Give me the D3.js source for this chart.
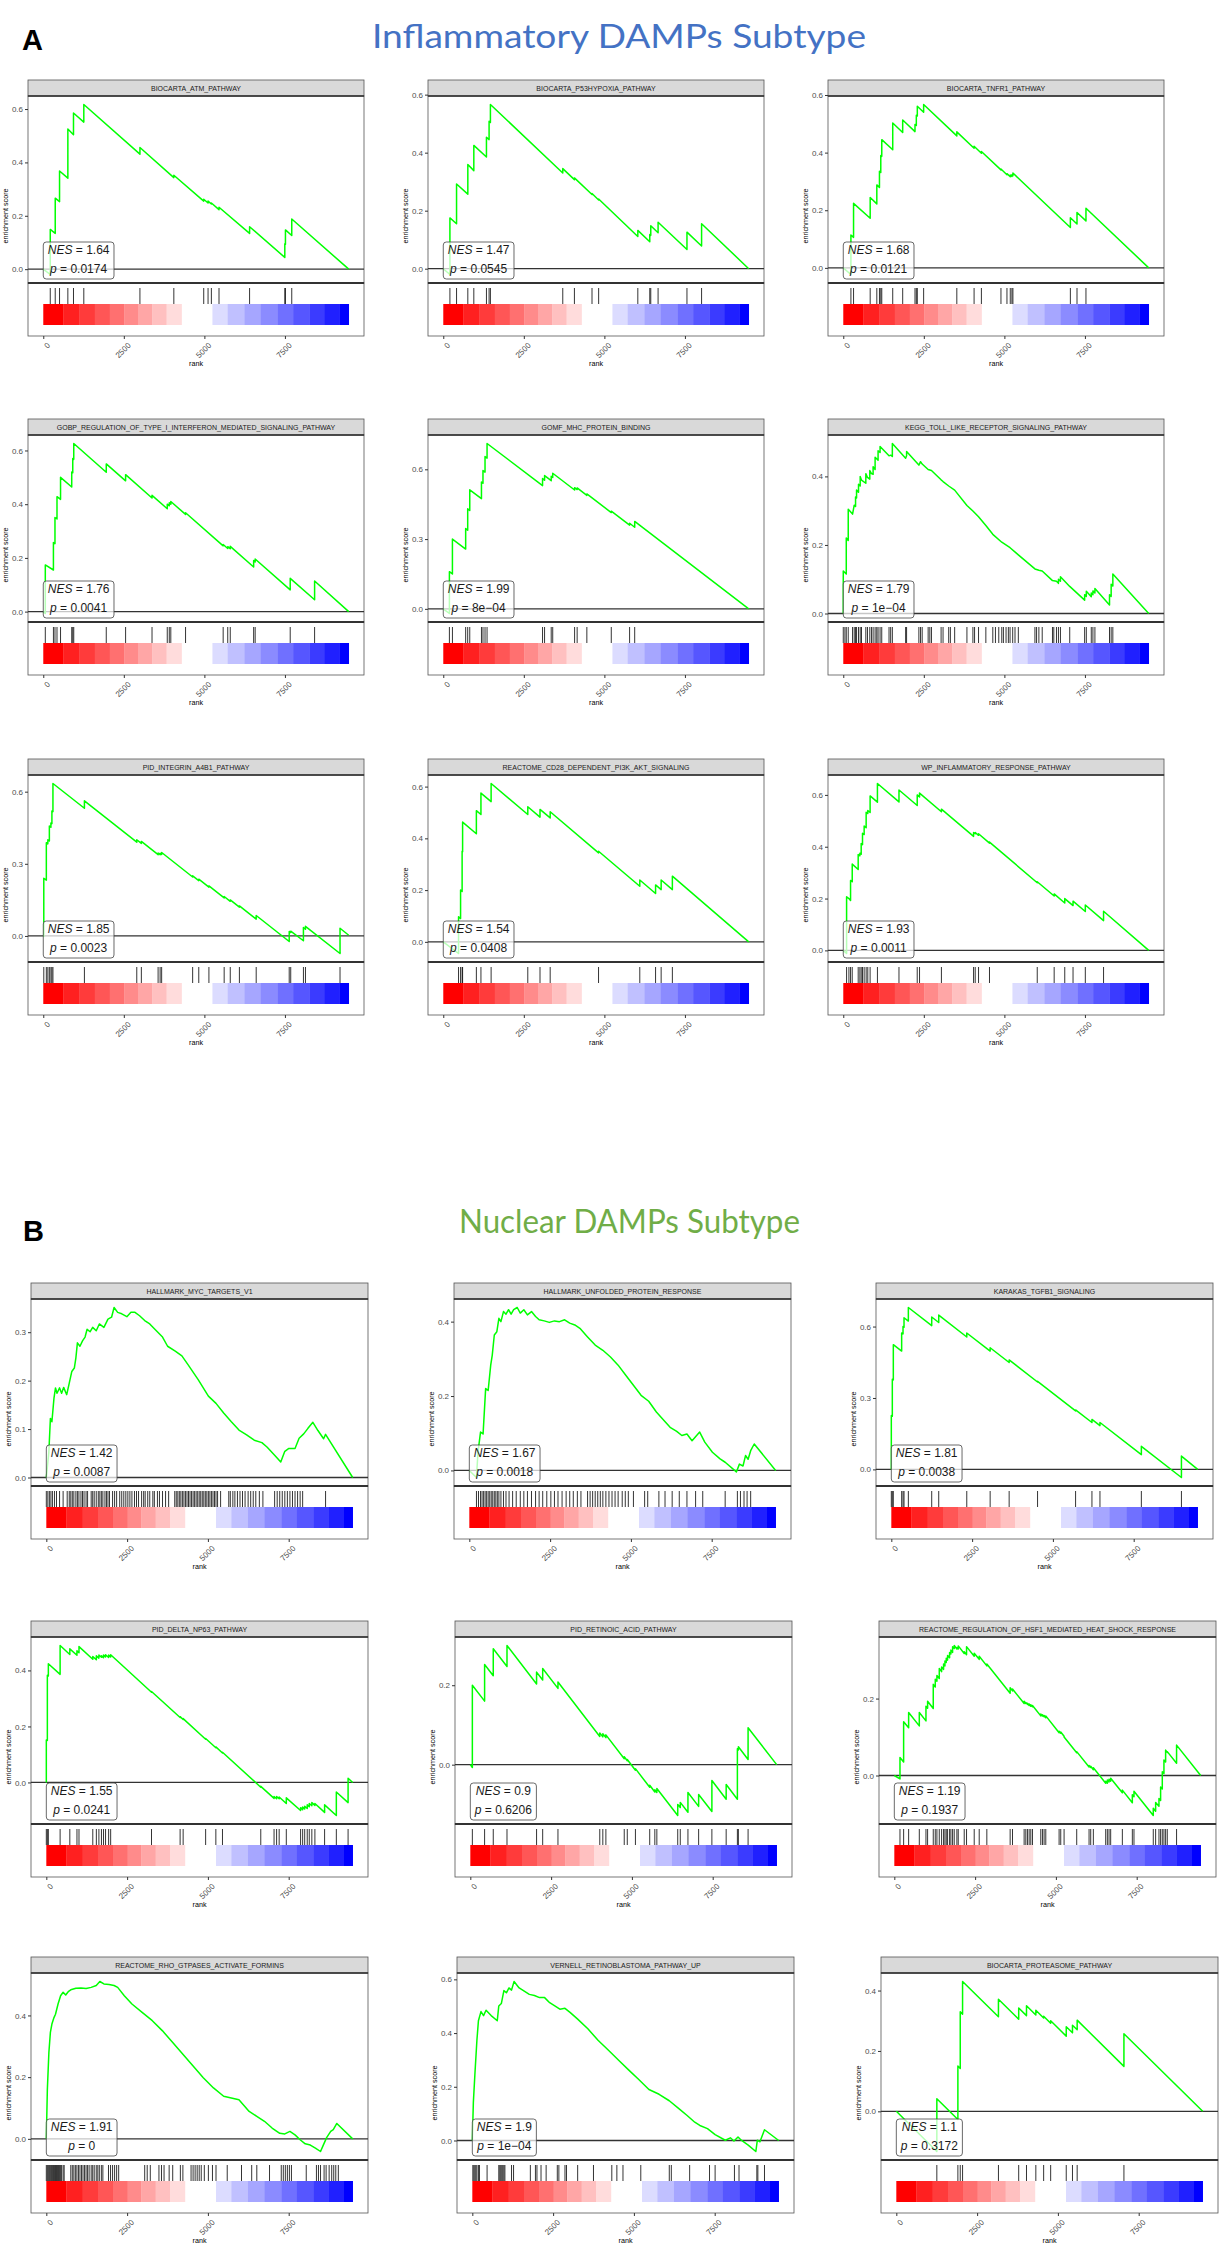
<!DOCTYPE html>
<html>
<head>
<meta charset="utf-8">
<script src="https://cdnjs.cloudflare.com/ajax/libs/d3/7.8.5/d3.min.js"></script>
<style>
  body { margin: 0; background: #fff; }
  text { font-family: "Liberation Sans", Arial, sans-serif; }
</style>
</head>
<body>
<div id="chart"></div>
<script>
// Ranked list length and axis ticks
const N_RANK = 9480;
const rankTicks = [0, 2500, 5000, 7500];

// Heat bar under the hits (rank edges and colours)
const barEdges = [0, 619, 1124, 1599, 2063, 2516, 2940, 3383, 3827, 4301, 5250, 5724, 6240, 6744, 7270, 7754, 8259, 8734, 9188, 9480];
const barColors = ['#ff0000', '#ff2020', '#ff3b3b', '#ff5656', '#ff7070', '#ff8b8b', '#ffa6a6', '#ffc0c0', '#ffdcdc', '#ffffff',
  '#dcdcff', '#c0c0ff', '#a6a6ff', '#8b8bff', '#7070ff', '#5656ff', '#3b3bff', '#2020ff', '#0000ff'];

// ---- A: Inflammatory DAMPs subtype ----
const atmHits = [217, 371, 505, 763, 938, 1258, 3000, 4052, 4980, 5114, 5217, 5454, 6403, 7496, 7516, 7712];
const atmCurve = [[0,0],[217,-0.02],[217,0.149],[371,0.134],[371,0.266],[505,0.253],[505,0.368],[763,0.341],[763,0.525],[938,0.504],[938,0.585],[1258,0.551],[1258,0.617],[3000,0.431],[3000,0.456],[4052,0.343],[4052,0.352],[4980,0.255],[4980,0.262],[5114,0.248],[5114,0.255],[5217,0.244],[5217,0.248],[5454,0.223],[5454,0.232],[6403,0.134],[6403,0.159],[7496,0.044],[7496,0.095],[7516,0.093],[7516,0.147],[7712,0.126],[7712,0.188],[9480,0]];

const p53Hits = [206, 412, 762, 948, 1340, 1422, 1463, 3709, 4070, 4616, 4822, 6038, 6409, 6440, 6667, 7563, 8017];
const p53Curve = [[0,0],[206,-0.02],[206,0.175],[412,0.155],[412,0.292],[762,0.257],[762,0.359],[948,0.338],[948,0.425],[1340,0.385],[1340,0.453],[1422,0.445],[1422,0.508],[1463,0.504],[1463,0.566],[3709,0.33],[3709,0.345],[4070,0.307],[4070,0.313],[4616,0.256],[4616,0.259],[4822,0.237],[4822,0.24],[6038,0.111],[6038,0.132],[6409,0.093],[6409,0.118],[6440,0.115],[6440,0.148],[6667,0.124],[6667,0.16],[7563,0.066],[7563,0.126],[8017,0.078],[8017,0.155],[9480,0]];

const tnfr1Hits = [237, 319, 835, 1041, 1123, 1164, 1195, 1535, 1844, 2226, 2267, 2298, 2494, 3524, 4060, 4287, 4894, 5080, 5183, 5234, 5265, 7048, 7254, 7532];
const tnfr1Curve = [[0,0],[237,-0.023],[237,0.114],[319,0.106],[319,0.224],[835,0.172],[835,0.244],[1041,0.222],[1041,0.288],[1123,0.279],[1123,0.335],[1164,0.331],[1164,0.39],[1195,0.387],[1195,0.445],[1535,0.41],[1535,0.503],[1844,0.47],[1844,0.513],[2226,0.473],[2226,0.498],[2267,0.494],[2267,0.53],[2298,0.527],[2298,0.561],[2494,0.54],[2494,0.567],[3524,0.458],[3524,0.472],[4060,0.415],[4060,0.422],[4287,0.398],[4287,0.404],[4894,0.34],[4894,0.343],[5080,0.323],[5080,0.327],[5183,0.316],[5183,0.322],[5234,0.317],[5234,0.323],[5265,0.32],[5265,0.329],[7048,0.14],[7048,0.174],[7254,0.152],[7254,0.192],[7532,0.163],[7532,0.207],[9480,0]];

const gobpHits = [63, 315, 363, 426, 536, 883, 915, 946, 1955, 2555, 3375, 3848, 3911, 3958, 4416, 5583, 5725, 5803, 6529, 6576, 7664, 8421];
const gobpCurve = [[0,0],[63,-0.007],[63,0.174],[315,0.155],[315,0.257],[363,0.253],[363,0.35],[426,0.345],[426,0.428],[536,0.418],[536,0.5],[883,0.464],[883,0.52],[915,0.517],[915,0.57],[946,0.567],[946,0.626],[1955,0.519],[1955,0.55],[2555,0.487],[2555,0.51],[3375,0.423],[3375,0.433],[3848,0.383],[3848,0.4],[3911,0.394],[3911,0.405],[3958,0.4],[3958,0.41],[4416,0.362],[4416,0.368],[5583,0.245],[5583,0.25],[5725,0.235],[5725,0.242],[5803,0.234],[5803,0.243],[6529,0.166],[6529,0.19],[6576,0.185],[6576,0.196],[7664,0.081],[7664,0.124],[8421,0.044],[8421,0.114],[9480,0]];

const mhcHits = [190, 284, 695, 758, 822, 1185, 1232, 1296, 1359, 3081, 3144, 3350, 3397, 4076, 4155, 4456, 5214, 5783, 5941];
const mhcCurve = [[0,0],[190,-0.02],[190,0.16],[284,0.15],[284,0.3],[695,0.257],[695,0.345],[758,0.338],[758,0.43],[822,0.423],[822,0.512],[1185,0.474],[1185,0.545],[1232,0.54],[1232,0.595],[1296,0.588],[1296,0.655],[1359,0.648],[1359,0.711],[3081,0.53],[3081,0.56],[3144,0.553],[3144,0.573],[3350,0.551],[3350,0.57],[3397,0.565],[3397,0.583],[4076,0.511],[4076,0.521],[4155,0.513],[4155,0.52],[4456,0.488],[4456,0.494],[5214,0.414],[5214,0.42],[5783,0.36],[5783,0.368],[5941,0.351],[5941,0.376],[9480,0]];

const keggHits = [0, 51, 93, 154, 288, 340, 381, 412, 473, 525, 566, 700, 751, 823, 875, 926, 988, 1039, 1080, 1142, 1194, 1420, 1471, 1523, 1935, 1965, 2346, 2398, 2449, 2634, 2686, 2737, 3036, 3097, 3272, 3324, 3457, 3838, 4023, 4075, 4198, 4425, 4641, 4723, 4826, 4919, 4970, 5052, 5124, 5176, 5258, 5330, 5433, 5948, 5999, 6071, 6174, 6493, 6534, 6617, 6678, 6740, 7028, 7491, 7543, 7697, 7748, 7810, 8263, 8314, 8366];
const keggCurve = [[0,0],[0,0.124],[93,0.115],[93,0.22],[154,0.213],[154,0.304],[288,0.29],[340,0.316],[381,0.312],[381,0.34],[412,0.337],[412,0.36],[473,0.354],[473,0.377],[525,0.372],[525,0.4],[566,0.389],[700,0.38],[700,0.408],[751,0.397],[823,0.392],[823,0.417],[875,0.408],[926,0.406],[926,0.428],[988,0.42],[988,0.456],[1080,0.447],[1080,0.475],[1142,0.47],[1142,0.487],[1420,0.46],[1471,0.462],[1523,0.458],[1523,0.496],[1935,0.453],[1965,0.46],[1965,0.473],[2346,0.433],[2398,0.443],[2449,0.436],[2634,0.42],[2737,0.417],[3036,0.39],[3097,0.385],[3272,0.372],[3457,0.36],[3838,0.315],[4023,0.299],[4198,0.282],[4425,0.257],[4641,0.231],[4919,0.208],[5176,0.192],[5433,0.171],[5948,0.13],[6071,0.126],[6174,0.124],[6493,0.096],[6617,0.094],[6678,0.088],[6678,0.1],[6740,0.094],[6740,0.107],[7028,0.079],[7491,0.039],[7491,0.055],[7543,0.05],[7543,0.065],[7697,0.049],[7697,0.06],[7748,0.055],[7748,0.066],[7810,0.06],[7810,0.073],[8263,0.025],[8263,0.055],[8314,0.05],[8314,0.085],[8366,0.08],[8366,0.115],[9480,0]];

const integrinHits = [16, 95, 142, 189, 237, 268, 300, 1277, 2902, 3044, 3564, 3627, 3674, 4636, 4826, 5141, 5614, 5803, 6087, 6608, 7633, 7680, 8074, 8137, 9210];
const integrinCurve = [[0,0],[16,-0.002],[16,0.24],[95,0.232],[95,0.388],[142,0.383],[142,0.4],[189,0.395],[189,0.457],[237,0.452],[237,0.47],[268,0.467],[268,0.52],[300,0.517],[300,0.634],[1277,0.531],[1277,0.562],[2902,0.39],[2902,0.4],[3044,0.385],[3044,0.393],[3564,0.338],[3564,0.345],[3627,0.338],[3627,0.344],[3674,0.339],[3674,0.347],[4636,0.245],[4636,0.25],[4826,0.23],[4826,0.236],[5141,0.203],[5141,0.208],[5614,0.158],[5614,0.164],[5803,0.144],[5803,0.15],[6087,0.12],[6087,0.125],[6608,0.07],[6608,0.085],[7633,-0.023],[7633,0.019],[7680,0.014],[7680,0.02],[8074,-0.02],[8074,0.035],[8137,0.028],[8137,0.04],[9210,-0.073],[9210,0.032],[9480,0.003]];

const cd28Hits = [474, 537, 585, 600, 1027, 1169, 1485, 2623, 3002, 3318, 4819, 6099, 6589, 6762, 7110];
const cd28Curve = [[0,0],[474,-0.045],[474,0.097],[537,0.09],[537,0.2],[585,0.195],[585,0.35],[600,0.348],[600,0.463],[1027,0.418],[1027,0.507],[1169,0.492],[1169,0.575],[1485,0.542],[1485,0.612],[2623,0.492],[2623,0.522],[3002,0.482],[3002,0.512],[3318,0.479],[3318,0.503],[4819,0.344],[4819,0.35],[6099,0.215],[6099,0.239],[6589,0.187],[6589,0.22],[6762,0.202],[6762,0.239],[7110,0.202],[7110,0.254],[9480,0]];

const wpHits = [103, 175, 226, 278, 463, 515, 556, 597, 648, 710, 761, 833, 1060, 1729, 2295, 2367, 3046, 4044, 4095, 4198, 4538, 6020, 6545, 6874, 7131, 7512, 8078];
const wpCurve = [[0,0],[103,-0.012],[103,0.207],[175,0.2],[226,0.193],[226,0.27],[278,0.265],[278,0.333],[463,0.312],[463,0.37],[515,0.365],[515,0.375],[556,0.371],[556,0.412],[597,0.408],[597,0.452],[648,0.447],[648,0.48],[710,0.473],[710,0.533],[761,0.528],[761,0.54],[833,0.532],[833,0.596],[1060,0.572],[1060,0.644],[1729,0.573],[1729,0.619],[2295,0.559],[2295,0.6],[2367,0.592],[2367,0.607],[3046,0.535],[3046,0.545],[4044,0.44],[4044,0.455],[4095,0.45],[4095,0.455],[4198,0.444],[4198,0.45],[4538,0.414],[4538,0.418],[6020,0.261],[6020,0.265],[6545,0.21],[6545,0.218],[6874,0.183],[6874,0.2],[7131,0.173],[7131,0.19],[7512,0.15],[7512,0.175],[8078,0.115],[8078,0.151],[9480,0]];

// ---- B: Nuclear DAMPs subtype ----
const mycHits = [0, 47, 95, 142, 189, 252, 315, 410, 520, 646, 710, 757, 804, 852, 915, 962, 1009, 1072, 1120, 1167, 1230, 1277, 1388, 1435, 1482, 1545, 1608, 1656, 1703, 1750, 1814, 1861, 1908, 1955, 2050, 2113, 2176, 2271, 2334, 2397, 2460, 2523, 2586, 2649, 2728, 2791, 2854, 2949, 3012, 3059, 3138, 3201, 3296, 3343, 3438, 3501, 3596, 3690, 3785, 3974, 4021, 4069, 4116, 4163, 4211, 4258, 4305, 4353, 4400, 4447, 4494, 4542, 4589, 4636, 4684, 4731, 4778, 4826, 4873, 4920, 4967, 5015, 5062, 5109, 5157, 5204, 5251, 5299, 5393, 5646, 5693, 5772, 5835, 5914, 5993, 6071, 6150, 6245, 6324, 6403, 6482, 6592, 6702, 7065, 7144, 7223, 7301, 7380, 7459, 7538, 7617, 7696, 7775, 7854, 7932, 8641];
const mycCurve = [[0,0],[79,0.053],[126,0.122],[173,0.115],[237,0.164],[284,0.185],[331,0.174],[410,0.185],[473,0.174],[536,0.186],[631,0.171],[710,0.195],[789,0.219],[867,0.226],[915,0.247],[962,0.278],[1041,0.271],[1120,0.282],[1199,0.29],[1262,0.306],[1356,0.301],[1435,0.31],[1545,0.303],[1640,0.317],[1782,0.31],[1908,0.327],[2019,0.331],[2097,0.351],[2208,0.341],[2334,0.338],[2492,0.332],[2618,0.341],[2744,0.341],[2886,0.334],[3044,0.324],[3201,0.317],[3359,0.306],[3596,0.29],[3753,0.271],[3990,0.261],[4195,0.251],[4384,0.233],[4699,0.202],[5015,0.168],[5251,0.153],[5488,0.133],[5725,0.115],[5961,0.098],[6198,0.088],[6434,0.077],[6671,0.072],[6828,0.063],[7065,0.046],[7254,0.032],[7380,0.054],[7506,0.06],[7696,0.06],[7822,0.081],[7964,0.09],[8090,0.101],[8248,0.114],[8405,0.097],[8580,0.08],[8641,0.089],[9480,0]];

const uprHits = [221, 284, 347, 394, 442, 489, 536, 583, 631, 678, 725, 773, 820, 867, 915, 978, 1057, 1135, 1230, 1340, 1451, 1577, 1687, 1798, 1924, 2050, 2160, 2271, 2397, 2523, 2634, 2744, 2870, 2996, 3107, 3217, 3343, 3454, 3659, 3738, 3816, 3895, 3974, 4053, 4132, 4226, 4321, 4416, 4510, 4605, 4731, 4826, 4920, 5078, 5425, 5520, 5866, 6056, 6277, 6497, 6734, 7002, 7223, 7917, 8295, 8390, 8500, 8595, 8706];
const uprCurve = [[0,0],[221,-0.019],[268,0.049],[347,0.103],[426,0.098],[505,0.22],[583,0.215],[662,0.283],[710,0.31],[773,0.364],[852,0.373],[915,0.409],[978,0.4],[1057,0.427],[1135,0.42],[1214,0.432],[1293,0.42],[1372,0.432],[1482,0.438],[1577,0.423],[1687,0.432],[1798,0.418],[1924,0.427],[2050,0.414],[2160,0.405],[2318,0.402],[2476,0.398],[2634,0.402],[2791,0.4],[2949,0.405],[3107,0.396],[3264,0.391],[3422,0.382],[3659,0.359],[3895,0.337],[4132,0.323],[4368,0.305],[4605,0.283],[4841,0.256],[5078,0.229],[5314,0.202],[5551,0.186],[5788,0.157],[6024,0.134],[6213,0.116],[6418,0.105],[6576,0.094],[6734,0.098],[6892,0.08],[7128,0.103],[7286,0.076],[7522,0.049],[7759,0.031],[7917,0.022],[8264,-0.004],[8358,0.017],[8469,0.012],[8547,0.04],[8627,0.03],[8706,0.053],[8816,0.071],[9480,0]];

const karakasHits = [0, 31, 62, 320, 362, 393, 527, 1250, 1467, 2335, 3058, 3646, 4525, 5702, 6208, 6456, 7737, 8977];
const karakasCurve = [[0,0],[0,0.226],[31,0.223],[31,0.379],[62,0.376],[62,0.524],[320,0.497],[320,0.573],[362,0.569],[362,0.6],[393,0.597],[393,0.637],[527,0.623],[527,0.68],[1250,0.604],[1250,0.64],[1467,0.617],[1467,0.648],[2335,0.556],[2335,0.573],[3058,0.497],[3058,0.511],[3646,0.449],[3646,0.46],[4525,0.367],[4525,0.37],[5702,0.246],[5702,0.25],[6208,0.197],[6208,0.21],[6456,0.184],[6456,0.197],[7737,0.062],[7737,0.097],[8977,-0.034],[8977,0.056],[9480,0]];

const np63Hits = [0, 32, 63, 427, 727, 948, 1011, 1438, 1548, 1627, 1706, 1770, 1833, 1928, 1991, 3255, 4140, 4234, 4930, 5246, 5451, 6636, 7047, 7126, 7205, 7426, 7868, 7932, 7995, 8074, 8137, 8216, 8311, 8611, 8974, 9338];
const np63Curve = [[0,0],[0,0.152],[32,0.15],[32,0.383],[63,0.38],[63,0.424],[427,0.386],[427,0.489],[727,0.457],[727,0.477],[948,0.454],[948,0.47],[1011,0.463],[1011,0.485],[1438,0.44],[1438,0.45],[1548,0.438],[1548,0.452],[1627,0.444],[1627,0.455],[1706,0.447],[1706,0.452],[1770,0.445],[1770,0.455],[1833,0.448],[1833,0.456],[1928,0.446],[1928,0.455],[1991,0.448],[1991,0.456],[3255,0.322],[3255,0.325],[4140,0.232],[4140,0.235],[4234,0.225],[4234,0.228],[4930,0.154],[4930,0.157],[5246,0.124],[5246,0.127],[5451,0.105],[5451,0.108],[6636,-0.017],[6636,-0.014],[7047,-0.057],[7047,-0.05],[7126,-0.058],[7126,-0.05],[7205,-0.058],[7205,-0.052],[7426,-0.075],[7426,-0.055],[7868,-0.1],[7868,-0.09],[7932,-0.097],[7932,-0.088],[7995,-0.095],[7995,-0.085],[8074,-0.093],[8074,-0.08],[8137,-0.087],[8137,-0.075],[8216,-0.083],[8216,-0.072],[8311,-0.082],[8311,-0.075],[8611,-0.107],[8611,-0.08],[8974,-0.118],[8974,-0.034],[9338,-0.072],[9338,0.015],[9480,0]];

const retinoicHits = [63, 442, 710, 1135, 2050, 2239, 2712, 4006, 4100, 4195, 4763, 4857, 5109, 5551, 5709, 5772, 6418, 6497, 6734, 7065, 7475, 7917, 8264, 8295, 8595];
const retinoicCurve = [[0,0],[63,-0.007],[63,0.2],[442,0.16],[442,0.252],[710,0.224],[710,0.292],[1135,0.247],[1135,0.3],[2050,0.203],[2050,0.233],[2239,0.213],[2239,0.242],[2712,0.192],[2712,0.208],[4006,0.071],[4006,0.08],[4100,0.07],[4100,0.078],[4195,0.068],[4195,0.075],[4763,0.015],[4763,0.02],[4857,0.01],[4857,0.013],[5109,-0.014],[5109,-0.01],[5551,-0.057],[5551,-0.052],[5709,-0.069],[5709,-0.063],[5772,-0.07],[5772,-0.06],[6418,-0.128],[6418,-0.1],[6497,-0.108],[6497,-0.095],[6734,-0.12],[6734,-0.07],[7065,-0.105],[7065,-0.075],[7475,-0.118],[7475,-0.04],[7917,-0.087],[7917,-0.05],[8264,-0.087],[8264,0.04],[8295,0.037],[8295,0.045],[8595,0.013],[8595,0.093],[9480,0]];

const hsf1Hits = [175, 288, 443, 773, 979, 1030, 1205, 1267, 1318, 1391, 1463, 1524, 1566, 1607, 1648, 1710, 1751, 1803, 1854, 1936, 1978, 2163, 2235, 2472, 2627, 2863, 3584, 3657, 4017, 4069, 4120, 4172, 4223, 4275, 4532, 4584, 4635, 4687, 5099, 5150, 5253, 5644, 6026, 6077, 6159, 6541, 6592, 6644, 6695, 7056, 7365, 7416, 8013, 8086, 8189, 8240, 8292, 8343, 8395, 8446, 8734];
const hsf1Curve = [[0,0],[175,-0.009],[175,0.047],[288,0.035],[288,0.14],[443,0.124],[443,0.164],[773,0.129],[773,0.164],[979,0.142],[979,0.18],[1030,0.175],[1030,0.193],[1205,0.174],[1205,0.237],[1267,0.23],[1267,0.25],[1318,0.245],[1318,0.26],[1391,0.252],[1391,0.278],[1463,0.27],[1463,0.282],[1524,0.276],[1524,0.29],[1566,0.285],[1566,0.298],[1607,0.294],[1607,0.305],[1648,0.3],[1648,0.312],[1710,0.306],[1710,0.32],[1751,0.316],[1751,0.326],[1803,0.32],[1803,0.335],[1854,0.33],[1854,0.338],[1936,0.329],[1936,0.333],[1978,0.329],[1978,0.337],[2163,0.317],[2163,0.322],[2235,0.314],[2235,0.335],[2472,0.31],[2472,0.318],[2627,0.302],[2627,0.31],[2863,0.285],[2863,0.29],[3584,0.214],[3584,0.228],[3657,0.22],[3657,0.225],[4017,0.187],[4017,0.193],[4069,0.187],[4069,0.19],[4120,0.185],[4120,0.188],[4172,0.182],[4172,0.186],[4223,0.18],[4223,0.184],[4275,0.179],[4275,0.182],[4532,0.155],[4532,0.16],[4584,0.155],[4584,0.158],[4635,0.153],[4635,0.156],[4687,0.15],[4687,0.155],[5099,0.111],[5099,0.115],[5150,0.11],[5150,0.113],[5253,0.102],[5253,0.1],[5644,0.059],[5644,0.062],[6026,0.022],[6026,0.026],[6077,0.021],[6077,0.024],[6159,0.015],[6159,0.02],[6541,-0.02],[6541,-0.015],[6592,-0.02],[6592,-0.012],[6644,-0.017],[6644,-0.01],[6695,-0.015],[6695,-0.007],[7056,-0.045],[7056,-0.038],[7365,-0.071],[7365,-0.05],[7416,-0.055],[7416,-0.041],[8013,-0.104],[8013,-0.085],[8086,-0.093],[8086,-0.07],[8189,-0.08],[8189,-0.06],[8240,-0.065],[8240,-0.03],[8292,-0.035],[8292,0.01],[8343,0.005],[8343,0.04],[8395,0.035],[8395,0.066],[8446,0.06],[8446,0.062],[8734,0.032],[8734,0.079],[9480,0]];

const rhoHits = [0, 32, 63, 95, 126, 158, 189, 221, 252, 284, 315, 347, 378, 410, 442, 473, 520, 552, 757, 804, 852, 899, 946, 994, 1041, 1088, 1135, 1183, 1230, 1277, 1325, 1388, 1435, 1482, 1545, 1593, 1640, 1703, 1750, 1924, 1987, 2050, 2113, 2176, 2239, 3044, 3122, 3217, 3485, 3564, 3643, 3801, 3911, 4148, 4226, 4479, 4542, 4605, 4668, 4731, 4794, 4889, 5015, 5141, 5251, 5598, 6040, 6355, 6513, 6907, 7270, 7333, 7396, 7459, 7522, 7585, 8043, 8358, 8421, 8485, 8595, 8658, 8752, 8831, 8894, 8957, 9036];
const rhoCurve = [[0,0],[32,0.16],[79,0.279],[126,0.345],[173,0.372],[237,0.393],[284,0.404],[363,0.437],[442,0.464],[520,0.475],[599,0.466],[678,0.477],[757,0.483],[915,0.488],[1072,0.489],[1230,0.487],[1388,0.491],[1545,0.497],[1656,0.51],[1782,0.502],[1940,0.5],[2097,0.497],[2208,0.491],[2413,0.464],[2649,0.437],[2965,0.41],[3280,0.383],[3596,0.35],[3911,0.312],[4226,0.274],[4542,0.236],[4857,0.198],[5173,0.165],[5488,0.138],[5961,0.127],[6277,0.089],[6513,0.073],[6750,0.057],[6986,0.035],[7223,0.018],[7380,0.016],[7538,0.024],[7696,0.013],[7854,-0.003],[8011,-0.016],[8169,-0.02],[8327,-0.03],[8485,-0.041],[8564,-0.022],[8674,0.004],[8800,0.024],[8879,0.03],[8989,0.05],[9480,0]];

const vernellHits = [16, 47, 79, 110, 142, 189, 221, 457, 819, 851, 882, 914, 945, 977, 1008, 1213, 1276, 1796, 1953, 2000, 2126, 2284, 2630, 2678, 2867, 2914, 3260, 3749, 4316, 4473, 4662, 5213, 6095, 6158, 6725, 7340, 7513, 8111, 8253, 8804, 8836, 9041];
const vernellCurve = [[0,0],[32,0.141],[79,0.245],[142,0.373],[189,0.446],[268,0.48],[347,0.465],[425,0.485],[583,0.465],[772,0.446],[819,0.501],[898,0.51],[977,0.558],[1055,0.55],[1134,0.568],[1213,0.56],[1292,0.592],[1449,0.568],[1607,0.556],[1764,0.544],[1922,0.54],[2079,0.532],[2237,0.532],[2394,0.513],[2552,0.501],[2709,0.489],[2867,0.492],[3024,0.477],[3260,0.452],[3575,0.416],[3890,0.373],[4205,0.337],[4520,0.3],[4835,0.263],[5150,0.227],[5465,0.19],[5780,0.172],[6095,0.148],[6410,0.117],[6647,0.093],[6883,0.068],[7040,0.056],[7277,0.044],[7513,0.022],[7828,0.001],[7985,0.01],[8096,-0.002],[8222,0.013],[8332,0],[8537,-0.017],[8773,-0.041],[8820,0.001],[8900,-0.005],[9041,0.04],[9480,0]];

const proteasomeHits = [1254, 1905, 1978, 2050, 3160, 3787, 4028, 4317, 4559, 4776, 5258, 5451, 5596, 7043];
const proteasomeCurve = [[0,0],[1254,-0.133],[1254,0.042],[1905,-0.027],[1905,0.15],[1978,0.142],[1978,0.33],[2050,0.322],[2050,0.43],[3160,0.313],[3160,0.371],[3787,0.305],[3787,0.342],[4028,0.317],[4028,0.35],[4317,0.319],[4317,0.335],[4559,0.309],[4559,0.315],[4776,0.292],[4776,0.3],[5258,0.249],[5258,0.28],[5451,0.26],[5451,0.285],[5596,0.27],[5596,0.302],[7043,0.149],[7043,0.257],[9480,0]];

// Panel labels, statistics and y ticks
const namesA = ['BIOCARTA_ATM_PATHWAY', 'BIOCARTA_P53HYPOXIA_PATHWAY', 'BIOCARTA_TNFR1_PATHWAY',
  'GOBP_REGULATION_OF_TYPE_I_INTERFERON_MEDIATED_SIGNALING_PATHWAY', 'GOMF_MHC_PROTEIN_BINDING', 'KEGG_TOLL_LIKE_RECEPTOR_SIGNALING_PATHWAY',
  'PID_INTEGRIN_A4B1_PATHWAY', 'REACTOME_CD28_DEPENDENT_PI3K_AKT_SIGNALING', 'WP_INFLAMMATORY_RESPONSE_PATHWAY'];
const nesA = ['1.64', '1.47', '1.68', '1.76', '1.99', '1.79', '1.85', '1.54', '1.93'];
const pA = ['0.0174', '0.0545', '0.0121', '0.0041', '8e\u221204', '1e\u221204', '0.0023', '0.0408', '0.0011'];
const yTicksA = [[0, 0.2, 0.4, 0.6], [0, 0.2, 0.4, 0.6], [0, 0.2, 0.4, 0.6], [0, 0.2, 0.4, 0.6], [0, 0.3, 0.6], [0, 0.2, 0.4],
  [0, 0.3, 0.6], [0, 0.2, 0.4, 0.6], [0, 0.2, 0.4, 0.6]];

const namesB = ['HALLMARK_MYC_TARGETS_V1', 'HALLMARK_UNFOLDED_PROTEIN_RESPONSE', 'KARAKAS_TGFB1_SIGNALING',
  'PID_DELTA_NP63_PATHWAY', 'PID_RETINOIC_ACID_PATHWAY', 'REACTOME_REGULATION_OF_HSF1_MEDIATED_HEAT_SHOCK_RESPONSE',
  'REACTOME_RHO_GTPASES_ACTIVATE_FORMINS', 'VERNELL_RETINOBLASTOMA_PATHWAY_UP', 'BIOCARTA_PROTEASOME_PATHWAY'];
const nesB = ['1.42', '1.67', '1.81', '1.55', '0.9', '1.19', '1.91', '1.9', '1.1'];
const pB = ['0.0087', '0.0018', '0.0038', '0.0241', '0.6206', '0.1937', '0', '1e\u221204', '0.3172'];
const yTicksB = [[0, 0.1, 0.2, 0.3], [0, 0.2, 0.4], [0, 0.3, 0.6], [0, 0.2, 0.4], [0, 0.2], [0, 0.2], [0, 0.2, 0.4], [0, 0.2, 0.4, 0.6], [0, 0.2, 0.4]];

const curvesA = [atmCurve, p53Curve, tnfr1Curve, gobpCurve, mhcCurve, keggCurve, integrinCurve, cd28Curve, wpCurve];
const hitsA = [atmHits, p53Hits, tnfr1Hits, gobpHits, mhcHits, keggHits, integrinHits, cd28Hits, wpHits];
const curvesB = [mycCurve, uprCurve, karakasCurve, np63Curve, retinoicCurve, hsf1Curve, rhoCurve, vernellCurve, proteasomeCurve];
const hitsB = [mycHits, uprHits, karakasHits, np63Hits, retinoicHits, hsf1Hits, rhoHits, vernellHits, proteasomeHits];

// Layout
const SVG_W = 1219, SVG_H = 2244;
const PANEL_H = 256, STRIP_H = 16, TOP_B = 203;
const colXA = [28, 428, 828], rowYA = [80, 419, 759];
const colXB = [[31, 454, 876], [31, 455, 879], [31, 457, 881]], rowYB = [1283, 1621, 1957];

var svg = d3.select('#chart').append('svg')
  .attr('width', SVG_W)
  .attr('height', SVG_H)
  .style('background', '#fff');

// Section headings
svg.append('text').attr('x', 22).attr('y', 50).attr('font-size', 29).attr('font-weight', 'bold').text('A');
svg.append('text').attr('x', 372).attr('y', 48).attr('font-size', 32).attr('fill', '#4472c4')
  .style('font-family', 'Lato, "Open Sans", sans-serif')
  .attr('textLength', 494).attr('lengthAdjust', 'spacingAndGlyphs').text('Inflammatory DAMPs Subtype');
svg.append('text').attr('x', 23).attr('y', 1241).attr('font-size', 29).attr('font-weight', 'bold').text('B');
svg.append('text').attr('x', 459).attr('y', 1233).attr('font-size', 32).attr('fill', '#70ad47')
  .style('font-family', 'Lato, "Open Sans", sans-serif')
  .attr('textLength', 341).attr('lengthAdjust', 'spacingAndGlyphs').text('Nuclear DAMPs Subtype');

// Build panel tables
var panels = [];
for (var i = 0; i < 9; i++) {
  var r = Math.floor(i / 3), c = i % 3;
  panels.push({ x: colXA[c], y: rowYA[r], w: 336, name: namesA[i], nes: nesA[i], p: pA[i], ticks: yTicksA[i], curve: curvesA[i], hits: hitsA[i] });
}
for (var j = 0; j < 9; j++) {
  var rb = Math.floor(j / 3), cb = j % 3;
  panels.push({ x: colXB[rb][cb], y: rowYB[rb], w: 337, name: namesB[j], nes: nesB[j], p: pB[j], ticks: yTicksB[j], curve: curvesB[j], hits: hitsB[j] });
}
panels.forEach(drawPanel);

// One GSEA panel: running score on top, hits + heat bar below
function drawPanel(p) {
  var w = p.w;
  var g = svg.append('g').attr('transform', 'translate(' + p.x + ',' + p.y + ')');

  var x = d3.scaleLinear().domain([-0.05 * N_RANK, 1.05 * N_RANK]).range([0, w]);
  var ext = d3.extent(p.curve, function (d) { return d[1]; });
  var pad = (ext[1] - ext[0]) * 0.05;
  var y = d3.scaleLinear().domain([ext[0] - pad, ext[1] + pad]).range([TOP_B, STRIP_H]);

  // strip with gene set name
  g.append('rect').attr('x', 0).attr('y', 0).attr('width', w).attr('height', STRIP_H)
    .attr('fill', '#d9d9d9').attr('stroke', '#555').attr('stroke-width', 0.8);
  g.append('text').attr('x', w / 2).attr('y', 11).attr('text-anchor', 'middle')
    .attr('font-size', 7).attr('fill', '#1a1a1a').text(p.name);

  // panel frames
  g.append('rect').attr('x', 0).attr('y', STRIP_H).attr('width', w).attr('height', TOP_B - STRIP_H)
    .attr('fill', 'none').attr('stroke', '#555').attr('stroke-width', 0.8);
  g.append('rect').attr('x', 0).attr('y', TOP_B).attr('width', w).attr('height', PANEL_H - TOP_B)
    .attr('fill', 'none').attr('stroke', '#555').attr('stroke-width', 0.8);
  g.append('line').attr('x1', 0).attr('x2', w).attr('y1', STRIP_H).attr('y2', STRIP_H)
    .attr('stroke', '#333').attr('stroke-width', 1.3);
  g.append('line').attr('x1', 0).attr('x2', w).attr('y1', TOP_B).attr('y2', TOP_B)
    .attr('stroke', '#333').attr('stroke-width', 1.8);

  // zero line and running enrichment score
  g.append('line').attr('x1', 0).attr('x2', w).attr('y1', y(0)).attr('y2', y(0))
    .attr('stroke', '#333').attr('stroke-width', 1.3);
  g.append('path').datum(p.curve)
    .attr('d', d3.line().x(function (d) { return x(d[0]); }).y(function (d) { return y(d[1]); }))
    .attr('fill', 'none').attr('stroke', '#00ff00').attr('stroke-width', 1.5).attr('stroke-linejoin', 'round');

  // NES / p label
  var lab = g.append('g');
  var t1 = lab.append('text').attr('y', 174).attr('text-anchor', 'middle').attr('font-size', 12).attr('fill', '#1a1a1a');
  t1.append('tspan').attr('font-style', 'italic').text('NES');
  t1.append('tspan').text(' = ' + p.nes);
  var t2 = lab.append('text').attr('y', 193).attr('text-anchor', 'middle').attr('font-size', 12).attr('fill', '#1a1a1a');
  t2.append('tspan').attr('font-style', 'italic').text('p');
  t2.append('tspan').text(' = ' + p.p);
  var tw = Math.max(t1.node().getComputedTextLength(), t2.node().getComputedTextLength());
  var bx = x(0), bw = tw + 9;
  lab.insert('rect', 'text').attr('x', bx).attr('y', 162).attr('width', bw).attr('height', 37).attr('rx', 3)
    .attr('fill', '#fff').attr('fill-opacity', 0.72).attr('stroke', '#444').attr('stroke-width', 0.8);
  t1.attr('x', bx + bw / 2);
  t2.attr('x', bx + bw / 2);

  // hit ticks
  g.append('g').selectAll('line').data(p.hits).enter().append('line')
    .attr('x1', function (d) { return x(d); }).attr('x2', function (d) { return x(d); })
    .attr('y1', 208).attr('y2', 224).attr('stroke', '#000').attr('stroke-width', 0.8);

  // ranked-list heat bar
  g.append('g').selectAll('rect').data(barColors).enter().append('rect')
    .attr('x', function (d, k) { return x(barEdges[k]); })
    .attr('width', function (d, k) { return x(barEdges[k + 1]) - x(barEdges[k]) + 0.3; })
    .attr('y', 224).attr('height', 21)
    .attr('fill', function (d) { return d; });

  // y axis
  var ya = g.append('g').call(d3.axisLeft(y).tickValues(p.ticks).tickFormat(d3.format('.1f')).tickSize(3).tickPadding(2));
  ya.select('.domain').remove();
  ya.selectAll('line').attr('stroke', '#333');
  ya.selectAll('text').attr('font-size', 8).attr('fill', '#4d4d4d').style('font-family', '"Liberation Sans", Arial, sans-serif');

  // x axis with rotated labels
  var xa = g.append('g').attr('transform', 'translate(0,' + PANEL_H + ')')
    .call(d3.axisBottom(x).tickValues(rankTicks).tickSize(3).tickFormat(d3.format('d')));
  xa.select('.domain').remove();
  xa.selectAll('line').attr('stroke', '#333');
  xa.selectAll('text')
    .attr('font-size', 8).attr('fill', '#4d4d4d').style('font-family', '"Liberation Sans", Arial, sans-serif')
    .attr('text-anchor', 'end').attr('dy', null).attr('y', null)
    .attr('transform', 'translate(3,6) rotate(-45)')
    .attr('dominant-baseline', 'hanging');

  // axis titles
  g.append('text').attr('x', w / 2).attr('y', 286).attr('text-anchor', 'middle').attr('font-size', 7.2).text('rank');
  g.append('text').attr('transform', 'translate(-20.5,' + ((STRIP_H + PANEL_H) / 2) + ') rotate(-90)')
    .attr('text-anchor', 'middle').attr('font-size', 7.2).text('enrichment score');
}
</script>
</body>
</html>
